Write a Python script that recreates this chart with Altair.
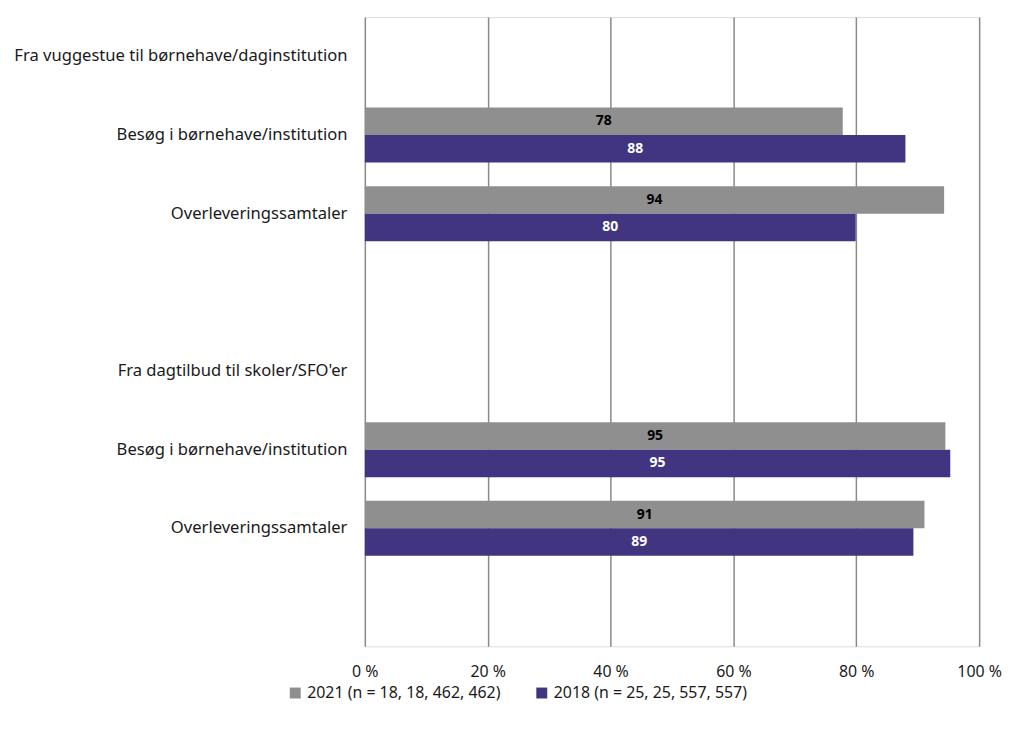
import json
import altair as alt
import pandas as pd

# ---- data ----
row_keys = ["h1", "r1", "r2", "b1", "h2", "r3", "r4", "b2"]
row_labels = [
    "Fra vuggestue til børnehave/daginstitution\u00a0",
    "Besøg i børnehave/institution",
    "Overleveringssamtaler",
    "",
    "Fra dagtilbud til skoler/SFO'er",
    "Besøg i børnehave/institution",
    "Overleveringssamtaler",
    "",
]
bar_rows = ["r1", "r2", "r3", "r4"]
series = ["2021 (n = 18, 18, 462, 462)", "2018 (n = 25, 25, 557, 557)"]
values_2021 = [77.8, 94.3, 94.5, 91.1]
values_2018 = [88.0, 79.9, 95.3, 89.3]
labels_2021 = ["78", "94", "95", "91"]
labels_2018 = ["88", "80", "95", "89"]
colors = ["#8f8f8f", "#413581"]
x_ticks = [0, 20, 40, 60, 80, 100]

records = []
for r, v, l in zip(bar_rows, values_2021, labels_2021):
    records.append({"row": r, "series": series[0], "value": v, "label": l})
for r, v, l in zip(bar_rows, values_2018, labels_2018):
    records.append({"row": r, "series": series[1], "value": v, "label": l})
df = pd.DataFrame(records)

FONT = "Noto Sans"
label_map = json.dumps(dict(zip(row_keys, row_labels)), ensure_ascii=False)

x_scale = alt.Scale(domain=[0, 100], nice=False)
x_axis = alt.Axis(
    title=None,
    values=x_ticks,
    labelExpr="datum.value + ' %'",
    grid=True,
    gridColor="#8a8a8a",
    gridWidth=1.5,
    ticks=False,
    domain=False,
    labelFlush=False,
    labelPadding=17,
    labelFontSize=16,
    labelColor="#1a1a1a",
    labelFont=FONT,
)

y_enc = alt.Y(
    "row:N",
    scale=alt.Scale(domain=row_keys, paddingInner=0.3, paddingOuter=0.15),
    axis=alt.Axis(
        title=None,
        labelExpr=label_map + "[datum.value]",
        ticks=False,
        domain=False,
        labelPadding=18,
        labelFontSize=16.7,
        labelColor="#1a1a1a",
        labelFont=FONT,
        labelLimit=400,
    ),
)
yoff_enc = alt.YOffset(
    "series:N", scale=alt.Scale(domain=series, paddingInner=0, paddingOuter=0)
)

bars = alt.Chart(df).mark_bar().encode(
    x=alt.X("value:Q", scale=x_scale, axis=x_axis),
    y=y_enc,
    yOffset=yoff_enc,
    color=alt.Color(
        "series:N",
        scale=alt.Scale(domain=series, range=colors),
        legend=alt.Legend(
            title=None,
            orient="none",
            legendX=-78,
            legendY=672,
            direction="horizontal",
            symbolType="square",
            symbolSize=121,
            symbolStrokeWidth=0,
            symbolOpacity=1,
            labelFontSize=16,
            labelFont=FONT,
            labelColor="#1a1a1a",
            labelLimit=400,
            columnPadding=33,
            labelOffset=4,
        ),
    ),
)

text = alt.Chart(df).mark_text(
    fontWeight="bold", fontSize=14, font=FONT, align="center", baseline="middle"
).encode(
    x=alt.X("mid:Q", scale=x_scale, axis=x_axis),
    y=y_enc,
    yOffset=yoff_enc,
    text="label:N",
    color=alt.condition(
        alt.datum.series == series[0], alt.value("#000000"), alt.value("#ffffff")
    ),
).transform_calculate(mid="datum.value / 2")

chart = (
    alt.layer(bars, text)
    .properties(
        width=618,
        height=633,
        autosize=alt.AutoSizeParams(type="none"),
        padding={"left": 359, "top": 7, "right": 23, "bottom": 73},
    )
    .configure_view(strokeWidth=0)
    .configure_axisX(labelFontSize=16, labelFont=FONT, labelFlush=False)
    .configure(background="white")
)

chart.save("out.html", embed_options={"renderer": "svg", "actions": False})
